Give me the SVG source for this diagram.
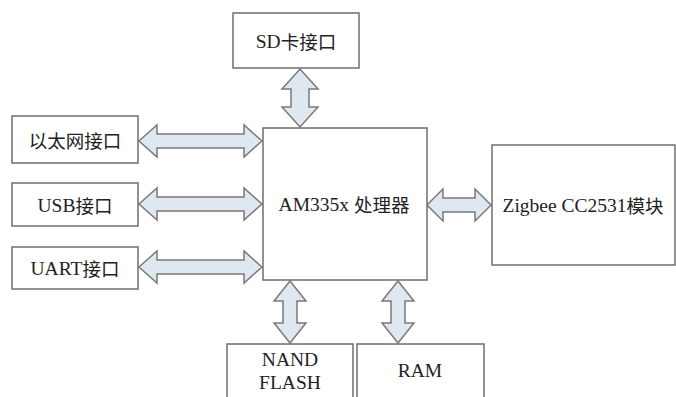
<svg xmlns="http://www.w3.org/2000/svg" width="676" height="397" viewBox="0 0 676 397">
<style>
.box{fill:#fff;stroke:#6e6e6e;stroke-width:1.5}
.arr{fill:#dfe7f1;stroke:#7a7a7a;stroke-width:1.5;stroke-linejoin:miter}
text{font-family:"Liberation Serif","Times New Roman","Noto Sans CJK SC",serif;font-size:19.5px;fill:#222;text-anchor:middle;dominant-baseline:central}
.cjk{font-family:"Noto Sans CJK SC",sans-serif;font-size:18.5px}
</style>
<rect width="676" height="397" fill="#fff"/>
<g id="connectors">
<polygon class="arr" points="300,69 318,89 309,89 309,107 318,107 300,127 282,107 291,107 291,89 282,89"/>
<polygon class="arr" points="139,141 157,125 157,134 244,134 244,125 262,141 244,157 244,148 157,148 157,157"/>
<polygon class="arr" points="139,204 157,188 157,197 244,197 244,188 262,204 244,220 244,211 157,211 157,220"/>
<polygon class="arr" points="139,267 157,251 157,260 244,260 244,251 262,267 244,283 244,274 157,274 157,283"/>
<polygon class="arr" points="427,205 443,189 443,198 475,198 475,189 491,205 475,221 475,212 443,212 443,221"/>
<polygon class="arr" points="290,281 306,301 297,301 297,323 306,323 290,343 274,323 283,323 283,301 274,301"/>
<polygon class="arr" points="398,281 414,301 405,301 405,323 414,323 398,343 382,323 391,323 391,301 382,301"/>
</g>
<g id="sd"><rect class="box" x="233" y="13" width="126" height="55"/><text x="296" y="41">SD<tspan class="cjk">卡接口</tspan></text></g>
<g id="eth"><rect class="box" x="12" y="116" width="126" height="47"/><text x="75" y="140" class="cjk">以太网接口</text></g>
<g id="usb"><rect class="box" x="12" y="183" width="126" height="43"/><text x="75" y="205">USB<tspan class="cjk">接口</tspan></text></g>
<g id="uart"><rect class="box" x="12" y="247" width="126" height="42"/><text x="75" y="268">UART<tspan class="cjk">接口</tspan></text></g>
<g id="cpu"><rect class="box" x="263" y="128" width="164" height="152"/><text x="344" y="204">AM335x <tspan class="cjk">处理器</tspan></text></g>
<g id="zigbee"><rect class="box" x="492" y="145" width="183" height="120"/><text x="583" y="205">Zigbee CC2531<tspan class="cjk">模块</tspan></text></g>
<g id="nand"><rect class="box" x="227" y="344" width="126" height="60"/><text x="290" y="359">NAND</text><text x="290" y="382">FLASH</text></g>
<g id="ram"><rect class="box" x="357" y="344" width="127" height="60"/><text x="420" y="370">RAM</text></g>
</svg>
